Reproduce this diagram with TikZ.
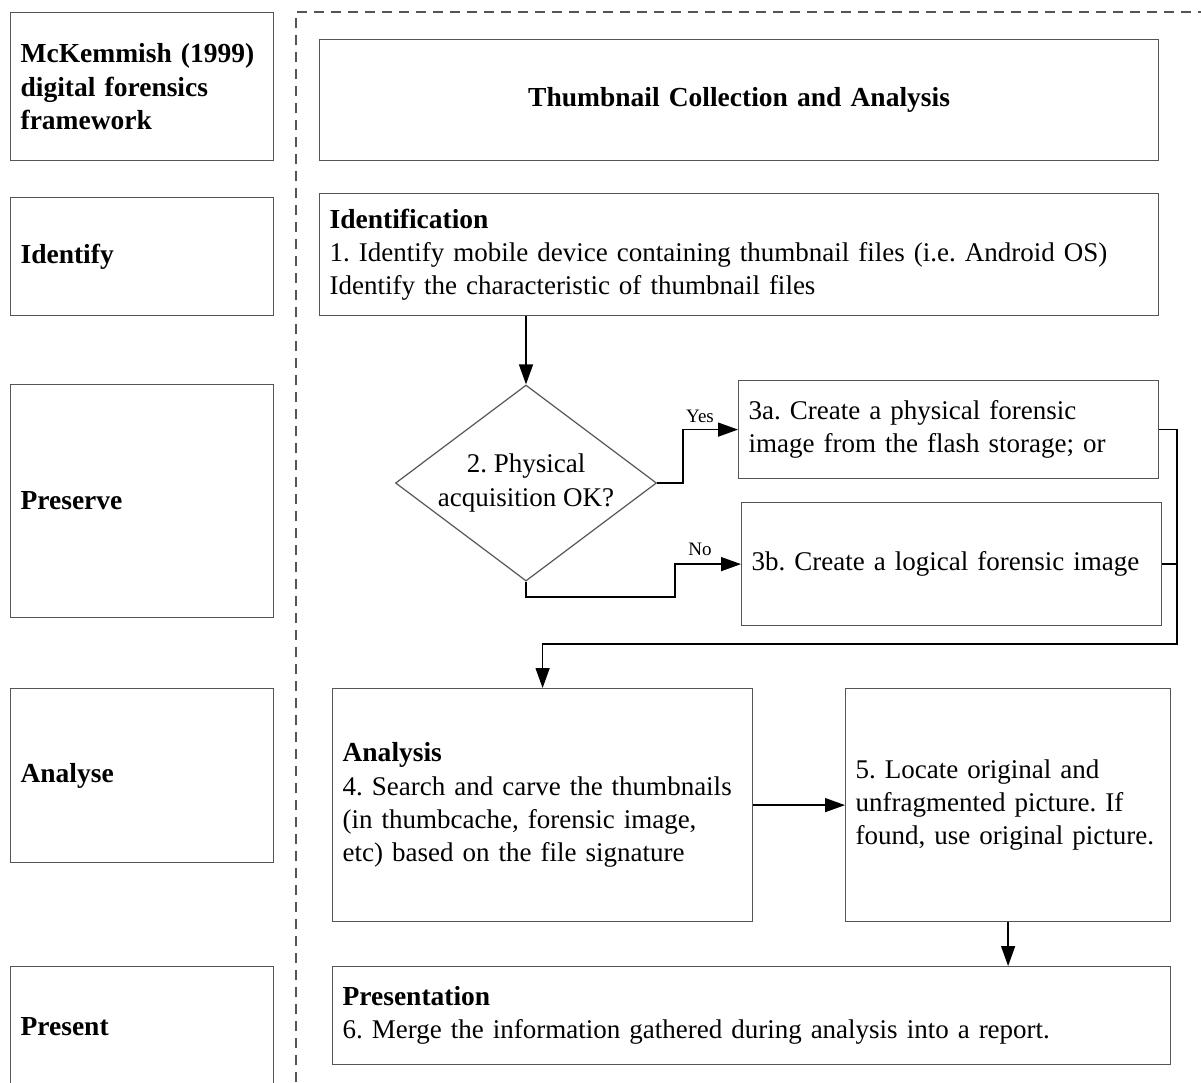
\documentclass[tikz,border=0pt]{standalone}
\usepackage{fontspec}
\setmainfont{Liberation Serif}
\usetikzlibrary{shapes.geometric,arrows.meta}
\definecolor{boxgray}{HTML}{555555}
\newcommand{\fsz}{\fontsize{27}{33.3}\selectfont}
\newcommand{\bsz}{\fontsize{27.5}{33.3}\selectfont\bfseries}
\frenchspacing
\begin{document}
\begin{tikzpicture}[x=1pt,y=-1pt,
  box/.style={draw=boxgray, line width=1.2pt, anchor=north west, inner xsep=10pt, inner ysep=0pt, align=left, font=\fsz},
  arr/.style={line width=1.4pt, -{Triangle[length=20pt,width=14pt]}},
  conn/.style={line width=1.4pt},
  smalllab/.style={font=\fontsize{19}{21}\selectfont, inner sep=0pt}]
\clip (0,0) rectangle (1201,1082);
\fill[white] (0,0) rectangle (1201,1082);
% dashed frame
\draw[boxgray, line width=1.5pt, dash pattern=on 10pt off 7pt] (296,1082) -- (296,12) -- (1201,12);
% left column
\node[box, text width=243pt, minimum height=148pt, font=\bsz] (mck) at (10,12) {McKemmish (1999)\\digital forensics\\framework};
\node[box, text width=243pt, minimum height=118pt, font=\bsz] (lidf) at (10,197) {Identify};
\node[box, text width=243pt, minimum height=233pt, font=\bsz] (lpre) at (10,384) {Preserve};
\node[box, text width=243pt, minimum height=174pt, font=\bsz] (lana) at (10,688) {Analyse};
\node[box, text width=243pt, minimum height=120pt, font=\bsz] (lprs) at (10,966) {Present};
% right column
\node[box, text width=819pt, minimum height=121pt, align=center, font=\bsz] (title) at (319,39) {Thumbnail Collection and Analysis};
\node[box, text width=819pt, minimum height=122pt] (ident) at (319,193) {{\bsz Identification}\\1. Identify mobile device containing thumbnail files (i.e. Android OS)\\Identify the characteristic of thumbnail files};
\node[draw=boxgray, line width=1.2pt, diamond, minimum width=261pt, minimum height=196pt, inner sep=0pt] (dia) at (526,483) {};
\node[font=\fsz, align=center, inner sep=0pt] (diatext) at (526,483) {2. Physical\\acquisition OK?};
\node[box, text width=400pt, minimum height=98pt] (s3a) at (738,380) {3a. Create a physical forensic\\image from the flash storage; or};
\node[box, text width=400pt, minimum height=123pt] (s3b) at (741,502) {3b. Create a logical forensic image};
\node[box, text width=400pt, minimum height=233pt] (anl) at (332,688) {{\bsz Analysis}\\4. Search and carve the thumbnails\\(in thumbcache, forensic image,\\etc) based on the file signature};
\node[box, text width=305pt, minimum height=233pt] (s5) at (845,688) {5. Locate original and\\unfragmented picture. If\\found, use original picture.};
\node[box, text width=818pt, minimum height=98pt] (pres) at (332,966) {{\bsz Presentation}\\6. Merge the information gathered during analysis into a report.};
% connectors
\coordinate (yb) at (683,483);
\coordinate (nb) at (675,597);
\coordinate (m1) at (1177,644);
\draw[arr] (dia.north |- ident.south) -- (dia.north);
\draw[arr] (dia.east) -- (yb) |- (s3a.west);
\draw[arr] (dia.south) |- (nb) |- (s3b.west);
\node[smalllab] (yes) at (700,416) {Yes};
\node[smalllab] (no) at (700,549) {No};
\draw[arr] (s3a.east) -| (m1) -| (anl.north);
\draw[conn] (s3b.east) -- (s3b.east -| m1);
\draw[arr] (anl.east) -- (s5.west);
\draw[arr] (s5.south) -- (s5.south |- pres.north);
\end{tikzpicture}
\end{document}
